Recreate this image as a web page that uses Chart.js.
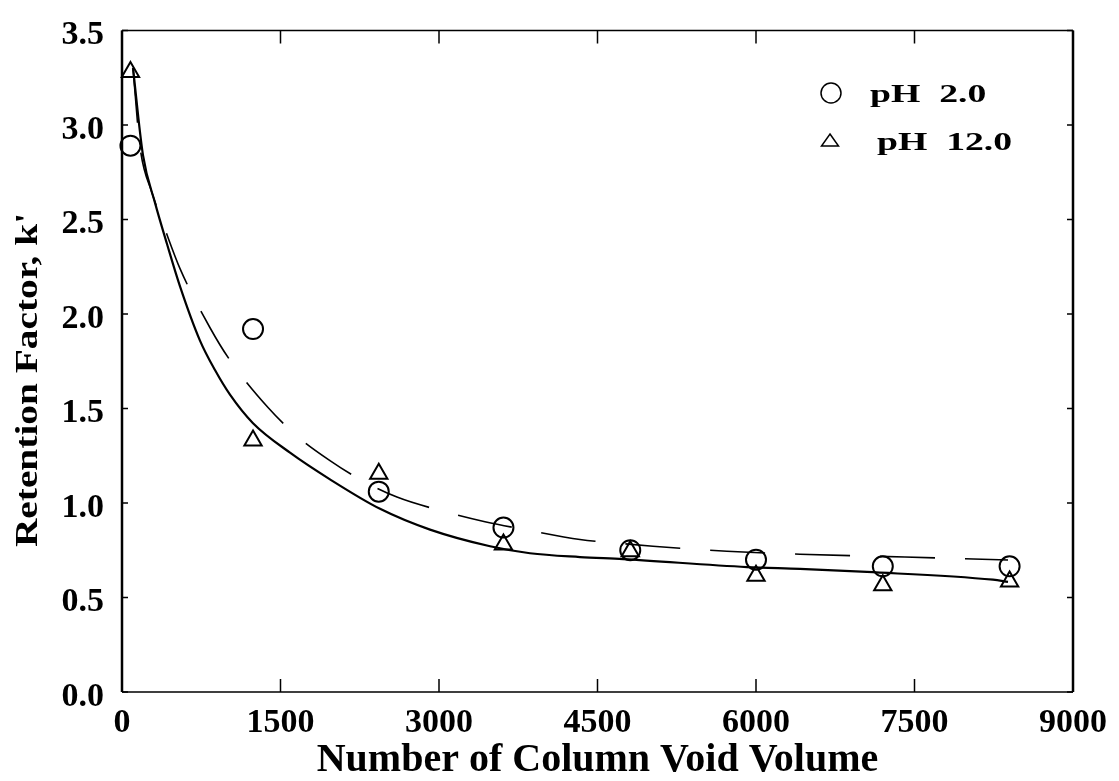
<!DOCTYPE html>
<html>
<head>
<meta charset="utf-8">
<title>Retention factor vs column void volume</title>
<script src="https://cdn.jsdelivr.net/npm/chart.js@4.4.1/dist/chart.umd.min.js"></script>
<style>
  html, body { margin: 0; padding: 0; background: #fff; }
  canvas { display: block; }
</style>
</head>
<body>
<canvas id="retention-chart" width="1119" height="781"></canvas>
<script>
// measured points
const voidVolume = [80, 1240, 2430, 3610, 4810, 6000, 7200, 8400];
const kPH2 = [2.89, 1.92, 1.06, 0.87, 0.75, 0.7, 0.665, 0.665];
const kPH12 = [3.28, 1.33, 1.155, 0.78, 0.745, 0.615, 0.565, 0.585];

// fitted curves
const fitPH2X = [104, 170, 284, 407, 549, 833, 1022, 1382, 1666, 1968, 2252, 2602, 3028, 3435, 3861, 4334, 4713, 5025, 5725, 6416, 7410, 8385];
const fitPH2Y = [3.302, 2.885, 2.641, 2.448, 2.24, 1.927, 1.755, 1.505, 1.349, 1.224, 1.125, 1.031, 0.958, 0.901, 0.854, 0.807, 0.786, 0.771, 0.745, 0.729, 0.714, 0.698];
const fitPH12X = [104, 199, 312, 426, 549, 738, 880, 1022, 1240, 1590, 1968, 2442, 2915, 3483, 3861, 4334, 4741, 5915, 6416, 7050, 8243, 8385];
const fitPH12Y = [3.302, 2.839, 2.589, 2.37, 2.146, 1.859, 1.703, 1.573, 1.422, 1.266, 1.125, 0.969, 0.859, 0.771, 0.734, 0.714, 0.703, 0.661, 0.651, 0.635, 0.594, 0.583];

const xTickValues = [0, 1500, 3000, 4500, 6000, 7500, 9000];
const yTickValues = [0, 0.5, 1, 1.5, 2, 2.5, 3, 3.5];
const legendLabels = ["pH  2.0", "pH  12.0"];
const xTitle = "Number of Column Void Volume";
const yTitle = "Retention Factor, k'";

const serif = '"Liberation Serif", "Times New Roman", serif';

function toPoints(xs, ys) {
  return xs.map((v, i) => ({ x: v, y: ys[i] }));
}

// frame, inward ticks, legend and the y title
const decorations = {
  id: "decorations",
  afterDraw(chart) {
    const { ctx, chartArea: area } = chart;
    const x = chart.scales.x;
    const y = chart.scales.y;
    ctx.save();
    ctx.strokeStyle = "#000";
    ctx.fillStyle = "#000";

    ctx.lineWidth = 1.5;
    ctx.beginPath();
    ctx.moveTo(area.left, area.top);
    ctx.lineTo(area.right, area.top);
    ctx.moveTo(area.left, area.bottom);
    ctx.lineTo(area.right, area.bottom);
    ctx.stroke();
    ctx.lineWidth = 2.5;
    ctx.beginPath();
    ctx.moveTo(area.left, area.top);
    ctx.lineTo(area.left, area.bottom);
    ctx.moveTo(area.right, area.top);
    ctx.lineTo(area.right, area.bottom);
    ctx.stroke();

    ctx.lineWidth = 1.5;
    ctx.beginPath();
    x.ticks.forEach((t) => {
      const px = x.getPixelForValue(t.value);
      ctx.moveTo(px, area.bottom);
      ctx.lineTo(px, area.bottom - 13);
      ctx.moveTo(px, area.top);
      ctx.lineTo(px, area.top + 13);
    });
    y.ticks.forEach((t) => {
      const py = y.getPixelForValue(t.value);
      ctx.moveTo(area.left, py);
      ctx.lineTo(area.left + 6, py);
      ctx.moveTo(area.right, py);
      ctx.lineTo(area.right - 6, py);
    });
    ctx.stroke();

    // legend
    ctx.lineWidth = 1.5;
    ctx.beginPath();
    ctx.arc(831, 93, 10, 0, Math.PI * 2);
    ctx.stroke();
    ctx.beginPath();
    ctx.moveTo(830, 134);
    ctx.lineTo(838.5, 146);
    ctx.lineTo(821.5, 146);
    ctx.closePath();
    ctx.stroke();

    ctx.font = "bold 26px " + serif;
    ctx.textAlign = "left";
    ctx.textBaseline = "alphabetic";
    [[870, 102], [877, 150]].forEach(([lx, ly], i) => {
      ctx.save();
      ctx.translate(lx, ly);
      ctx.scale(1.45, 1);
      ctx.fillText(legendLabels[i], 0, 0);
      ctx.restore();
    });

    // y title
    ctx.save();
    ctx.translate(37, 380);
    ctx.rotate(-Math.PI / 2);
    ctx.scale(1.27, 1);
    ctx.font = "bold 31px " + serif;
    ctx.textAlign = "center";
    ctx.textBaseline = "alphabetic";
    ctx.fillText(yTitle, 0, 0);
    ctx.restore();

    ctx.restore();
  },
};

new Chart(document.getElementById("retention-chart"), {
  type: "scatter",
  data: {
    datasets: [
      {
        label: "pH 2.0",
        data: toPoints(voidVolume, kPH2),
        pointStyle: "circle",
        pointRadius: 10,
        pointBorderWidth: 2,
        pointBorderColor: "#000",
        pointBackgroundColor: "rgba(0,0,0,0)",
        clip: false,
      },
      {
        label: "pH 12.0",
        data: toPoints(voidVolume, kPH12),
        pointStyle: "triangle",
        pointRadius: 10,
        pointBorderWidth: 2,
        pointBorderColor: "#000",
        pointBackgroundColor: "rgba(0,0,0,0)",
        clip: false,
      },
      {
        label: "pH 2.0 fit",
        data: toPoints(fitPH2X, fitPH2Y),
        showLine: true,
        pointRadius: 0,
        borderColor: "#000",
        borderWidth: 1.6,
        borderDash: [55, 30],
        cubicInterpolationMode: "monotone",
        clip: false,
      },
      {
        label: "pH 12.0 fit",
        data: toPoints(fitPH12X, fitPH12Y),
        showLine: true,
        pointRadius: 0,
        borderColor: "#000",
        borderWidth: 2.2,
        cubicInterpolationMode: "monotone",
        clip: false,
      },
    ],
  },
  options: {
    responsive: false,
    animation: false,
    devicePixelRatio: 1,
    layout: { padding: { top: 20, right: 46, left: 0, bottom: 0 } },
    plugins: {
      legend: { display: false },
      tooltip: { enabled: false },
    },
    scales: {
      x: {
        type: "linear",
        min: 0,
        max: 9000,
        afterBuildTicks: (s) => {
          s.ticks = xTickValues.map((v) => ({ value: v }));
        },
        afterFit: (s) => {
          s.height = 89;
        },
        grid: { display: false },
        border: { display: false },
        ticks: {
          color: "#000",
          padding: 3,
          maxRotation: 0,
          callback: (v) => String(v),
          font: { family: serif, size: 34, weight: "bold" },
        },
        title: {
          display: true,
          text: xTitle,
          color: "#000",
          padding: 0,
          font: { family: serif, size: 40, weight: "bold", lineHeight: 1 },
        },
      },
      y: {
        type: "linear",
        min: 0,
        max: 3.5,
        afterBuildTicks: (s) => {
          s.ticks = yTickValues.map((v) => ({ value: v }));
        },
        afterFit: (s) => {
          s.width = 122;
        },
        grid: { display: false },
        border: { display: false },
        ticks: {
          color: "#000",
          padding: 10,
          labelOffset: 5,
          callback: (v) => Number(v).toFixed(1),
          font: { family: serif, size: 34, weight: "bold" },
        },
      },
    },
  },
  plugins: [decorations],
});
</script>
</body>
</html>
